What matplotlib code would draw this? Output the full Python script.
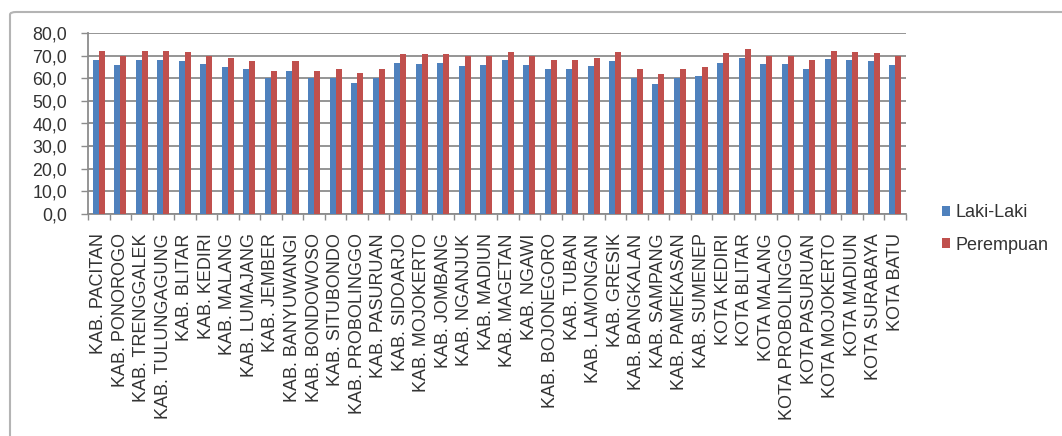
import matplotlib
matplotlib.use("Agg")
import matplotlib.pyplot as plt
import numpy as np
from matplotlib.patches import FancyBboxPatch

categories = ["KAB. PACITAN", "KAB. PONOROGO", "KAB. TRENGGALEK", "KAB. TULUNGAGUNG",
              "KAB. BLITAR", "KAB. KEDIRI", "KAB. MALANG", "KAB. LUMAJANG", "KAB. JEMBER",
              "KAB. BANYUWANGI", "KAB. BONDOWOSO", "KAB. SITUBONDO", "KAB. PROBOLINGGO",
              "KAB. PASURUAN", "KAB. SIDOARJO", "KAB. MOJOKERTO", "KAB. JOMBANG",
              "KAB. NGANJUK", "KAB. MADIUN", "KAB. MAGETAN", "KAB. NGAWI", "KAB. BOJONEGORO",
              "KAB. TUBAN", "KAB. LAMONGAN", "KAB. GRESIK", "KAB. BANGKALAN", "KAB. SAMPANG",
              "KAB. PAMEKASAN", "KAB. SUMENEP", "KOTA KEDIRI", "KOTA BLITAR", "KOTA MALANG",
              "KOTA PROBOLINGGO", "KOTA PASURUAN", "KOTA MOJOKERTO", "KOTA MADIUN",
              "KOTA SURABAYA", "KOTA BATU"]

laki_laki = [68.0, 65.9, 68.0, 68.0, 67.5, 66.5, 64.9, 63.9, 60.0, 63.3, 60.0, 60.0, 58.1,
             60.0, 66.9, 66.5, 66.9, 65.3, 65.9, 68.0, 65.9, 64.3, 64.3, 65.3, 67.5, 60.0,
             57.5, 60.0, 61.2, 66.9, 69.1, 66.5, 66.5, 63.9, 68.5, 68.0, 67.5, 65.9]

perempuan = [72.2, 70.0, 72.2, 72.2, 71.6, 70.0, 69.1, 67.5, 63.4, 67.5, 63.4, 63.9, 62.3,
             63.9, 70.6, 70.6, 70.6, 69.7, 69.7, 71.6, 70.0, 68.0, 68.0, 69.0, 71.6, 63.9,
             61.7, 63.9, 64.9, 71.2, 72.8, 70.0, 70.0, 68.0, 72.2, 71.6, 71.2, 70.0]

yticks = [0, 10, 20, 30, 40, 50, 60, 70, 80]
ytick_labels = ["0,0", "10,0", "20,0", "30,0", "40,0", "50,0", "60,0", "70,0", "80,0"]

plt.rcParams['font.family'] = ['Liberation Sans', 'DejaVu Sans']

fig = plt.figure(figsize=(10.62, 4.36), dpi=100)
ax = fig.add_axes([88/1062, 1-214/436, (906-88)/1062, (214-33)/436])

x = np.arange(len(categories))
w = 0.28
ax.bar(x - w/2, laki_laki, width=w, color="#4F81BD", label="Laki-Laki", zorder=3)
ax.bar(x + w/2, perempuan, width=w, color="#C0504D", label="Perempuan", zorder=3)

ax.set_xlim(-0.5, len(categories) - 0.5)
ax.set_ylim(0, 80)
ax.set_yticks(yticks)
ax.set_yticklabels(ytick_labels, fontsize=12.8, color="#333333")
ax.yaxis.grid(True, color="#8c8c8c", linewidth=1.3, zorder=0)

ax.set_xticks(x)
ax.set_xticklabels(categories, rotation=90, fontsize=13, color="#333333", va="top")
ax.set_xticks(np.arange(-0.5, len(categories), 1), minor=True)
ax.tick_params(axis="x", which="major", length=0, pad=14)
ax.tick_params(axis="x", which="minor", length=4, color="#8c8c8c", width=1)
ax.tick_params(axis="y", length=5, color="#8c8c8c", width=1, pad=10)

for s in ["top", "right"]:
    ax.spines[s].set_visible(False)
for s in ["left", "bottom"]:
    ax.spines[s].set_color("#8c8c8c")
    ax.spines[s].set_linewidth(1.3)

fig.legend(loc="center left", bbox_to_anchor=(926/1062, 1-229/436), frameon=False,
           fontsize=13, handlelength=0.45, handleheight=0.45, handletextpad=0.3,
           labelspacing=0.85, labelcolor="#333333")

border = FancyBboxPatch((10/1062, -0.1), 1.2, 1-12/436 + 0.1,
                        boxstyle="round,pad=0,rounding_size=0.006",
                        transform=fig.transFigure, facecolor="none",
                        edgecolor="#b4b4b4", linewidth=1.5)
fig.patches.append(border)

fig.savefig("out.png", dpi=100)
